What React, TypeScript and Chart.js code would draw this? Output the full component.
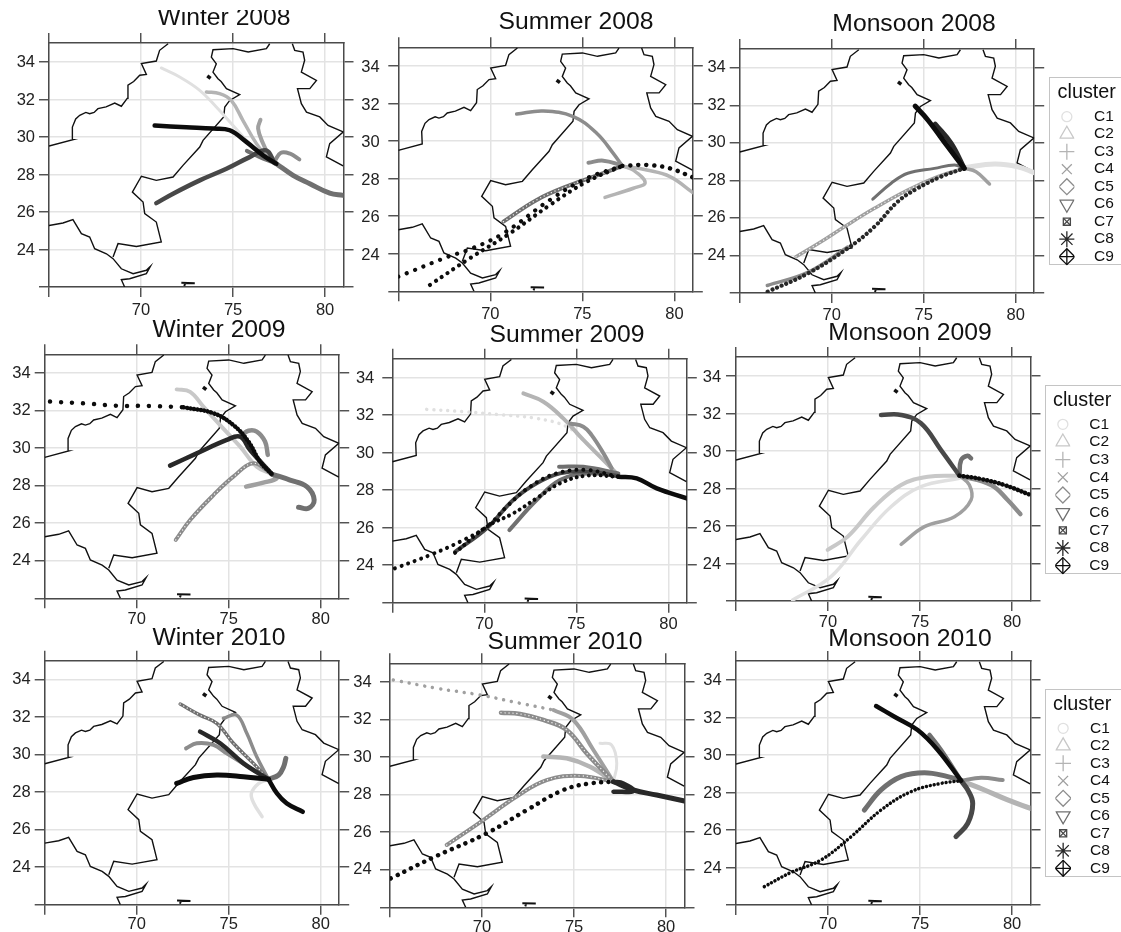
import React, { useEffect, useRef } from "react";
import { Chart, registerables } from "chart.js";

Chart.register(...registerables);
Chart.defaults.font.family = '"Liberation Sans", Arial, sans-serif';

type Pts = number[][];

// ---------- axis values ----------
const lonTicks = [65, 70, 75, 80];
const latTicks = [22, 24, 26, 28, 30, 32, 34];
const lonLabels = [70, 75, 80];
const latLabels = [24, 26, 28, 30, 32, 34];
const clusters = ["C1", "C2", "C3", "C4", "C5", "C6", "C7", "C8", "C9"];
const clusterGreys = ["#e0e0e0", "#c8c8c8", "#b4b4b4", "#a0a0a0", "#8c8c8c", "#707070", "#484848", "#282828", "#0c0c0c"];

// ---------- base map ----------
const mapNorthWest: Pts = [[65, 29.51], [66.3, 29.85], [66.27, 30.52], [66.45, 30.95], [66.67, 31.15], [67.0, 31.3], [67.21, 31.23], [67.45, 31.3], [67.66, 31.5], [68.1, 31.6], [68.57, 31.8], [68.93, 31.63], [69.25, 32.05], [69.29, 32.75], [69.6, 32.95], [69.93, 33.28], [70.29, 33.33], [70.02, 33.9], [70.83, 34.04], [71.01, 34.61], [71.47, 34.96]];
const mapBorder: Pts = [[76.99, 34.96], [76.81, 34.7], [75.82, 34.52], [75, 34.7], [73.91, 34.64], [73.82, 34.25], [74.09, 33.89], [73.91, 33.45], [74.18, 33.1], [74.35, 32.95], [74.64, 32.57], [75.36, 32.25], [74.82, 31.94], [74.55, 31.59], [74.49, 31.06], [73.37, 29.81], [73.19, 29.46], [72.28, 28.48], [71.74, 27.86], [70.83, 27.68], [70.02, 27.9], [69.53, 27.06], [70.11, 26.53], [70.2, 25.91], [70.83, 25.46], [71.1, 24.4], [69.75, 24.16], [68.75, 24.31], [68.48, 23.6]];
const mapCoast: Pts = [[65, 25.28], [65.76, 25.41], [66.3, 25.59], [66.76, 24.84], [67.21, 24.66], [67.48, 24.04], [68.12, 23.77], [68.48, 23.51], [68.93, 22.97], [69.57, 22.71], [70.29, 22.89], [70.51, 23.1], [70.29, 22.71], [69.38, 22.44], [68.93, 22.39], [69.11, 22.0]];
const mapEast: Pts = [[78.22, 34.96], [78.35, 34.61], [78.8, 34.52], [78.89, 34.08], [78.71, 33.45], [79.53, 33.01], [79.17, 32.57], [78.5, 32.57], [78.71, 31.77], [78.99, 31.32], [79.71, 31.06], [80.16, 30.61], [80.98, 30.26], [80.25, 29.64], [80.07, 28.93], [80.98, 28.45]];
const mapLake: Pts = [[73.6, 33.25], [73.78, 33.12]];
const mapIsland: Pts = [[72.19, 22.22], [72.92, 22.2], [72.4, 22.2], [72.35, 22.05]];

// ---------- trajectories (lon, lat) ----------
const w08a: Pts = [[71.1, 33.67], [72.1, 33.19], [73.19, 32.48], [74.09, 31.59], [75, 30.61], [75.9, 29.64], [76.63, 29.01], [77.25, 28.6]];
const w08b: Pts = [[73.55, 32.39], [74.27, 32.3], [74.9, 31.94], [75.54, 30.87], [76.27, 29.64], [76.99, 28.75]];
const w08c: Pts = [[76.49, 30.91], [76.36, 30.44], [76.63, 29.64], [77.08, 28.75]];
const w08d: Pts = [[70.74, 30.6], [72.46, 30.51], [73.91, 30.44], [74.82, 30.35], [75.72, 29.73], [76.63, 29.01], [77.35, 28.57]];
const w08e: Pts = [[70.83, 26.47], [71.74, 26.97], [73.19, 27.68], [74.64, 28.3], [75.9, 28.92], [76.8, 29.28], [77.25, 28.6]];
const w08f: Pts = [[80.98, 26.88], [80.25, 27.0], [79.17, 27.5], [78.26, 27.95], [77.35, 28.57]];
const w08g: Pts = [[78.6, 28.8], [78.1, 29.1], [77.6, 29.15], [77.25, 28.7]];
const w08h: Pts = [[75.75, 29.25], [76.4, 28.95], [77.25, 28.6]];

const s08a: Pts = [[71.43, 31.45], [72.88, 31.61], [74.51, 31.31], [75.78, 30.42], [76.68, 29.35], [77.17, 28.68]];
const s08b: Pts = [[75.33, 28.85], [76.14, 28.96], [77.17, 28.7]];
const s08c: Pts = [[76.23, 27.0], [77.77, 27.49], [78.41, 27.79], [77.77, 28.46], [77.17, 28.68]];
const s08d: Pts = [[77.17, 28.68], [78.5, 28.46], [79.76, 28.11], [81, 27.26]];
const s08e: Pts = [[77.17, 28.68], [78.5, 28.73], [79.76, 28.55], [81, 28.07]];
const s08f: Pts = [[66.72, 22.34], [68.89, 23.76], [71.07, 25.09], [73.24, 26.6], [75.24, 27.84], [77.17, 28.68]];
const s08g: Pts = [[65, 22.78], [67.72, 23.85], [68.89, 24.24], [70.71, 25.09], [73.24, 26.87], [75.24, 28.02], [77.17, 28.68]];
const s08h: Pts = [[70.71, 25.71], [72.52, 26.87], [74.33, 27.66], [76.14, 28.29], [77.17, 28.68]];

const m08a: Pts = [[74.53, 31.96], [75.22, 31.22], [76.3, 29.8], [77.2, 28.64]];
const m08b: Pts = [[75.62, 31.0], [76.49, 29.97], [77.2, 28.64]];
const m08c: Pts = [[77.2, 28.68], [78.84, 28.87], [80.1, 28.73], [81, 28.41]];
const m08d: Pts = [[77.2, 28.64], [77.84, 28.46], [78.57, 27.81]];
const m08e: Pts = [[72.23, 27.0], [73.23, 27.85], [74.13, 28.38], [75.58, 28.64], [76.67, 28.82], [77.2, 28.64]];
const m08f: Pts = [[68.06, 23.93], [69.42, 24.73], [70.69, 25.53], [72.32, 26.51], [74.13, 27.49], [75.76, 28.2], [77.2, 28.64]];
const m08g: Pts = [[66.52, 22.07], [68.7, 23.04], [70.87, 24.38], [72.32, 25.53], [73.59, 26.87], [74.67, 27.58], [75.94, 28.2], [77.2, 28.64]];
const m08h: Pts = [[66.5, 22.4], [68.7, 23.1], [70.87, 24.45]];

const w09a: Pts = [[65.29, 32.48], [67.1, 32.39], [68.91, 32.26], [70.72, 32.25], [72.54, 32.18]];
const w09b: Pts = [[72.54, 32.18], [74.17, 31.86], [75.25, 31.23], [76.07, 30.35], [76.7, 29.28], [77.34, 28.62]];
const w09c: Pts = [[72.17, 33.13], [72.9, 33.0], [73.62, 32.21], [74.53, 31.23], [75.62, 30.08], [76.52, 29.01], [77.34, 28.62]];
const w09d: Pts = [[77.12, 29.64], [76.97, 30.35], [76.52, 30.88], [76.07, 30.93], [75.7, 30.7]];
const w09e: Pts = [[71.81, 29.07], [73.26, 29.72], [74.89, 30.44], [75.62, 30.61], [76.16, 29.9], [77.34, 28.62]];
const w09f: Pts = [[72.12, 25.11], [72.9, 26.17], [74.17, 27.5], [75.25, 28.48], [76.34, 29.19], [77.34, 28.62]];
const w09g: Pts = [[75.94, 27.95], [76.88, 28.16], [77.6, 28.39], [77.34, 28.62]];
const w09h: Pts = [[77.34, 28.62], [78.33, 28.3], [79.24, 27.95], [79.64, 27.24], [79.33, 26.8], [78.79, 26.85]];

const s09a: Pts = [[66.87, 32.3], [68.86, 32.18], [71.03, 32.0], [72.84, 31.82], [74.47, 31.38], [75.56, 30.49], [76.92, 29.16]];
const s09b: Pts = [[72.12, 33.15], [73.21, 32.71], [74.29, 31.82], [75.38, 30.67], [76.47, 29.6], [77.28, 28.8]];
const s09c: Pts = [[74.66, 31.55], [75.38, 31.38], [75.83, 30.93], [76.47, 29.96], [76.92, 29.16]];
const s09d: Pts = [[74.06, 29.24], [75.38, 29.24], [77.28, 28.89]];
const s09e: Pts = [[65.14, 23.83], [67.05, 24.54], [68.68, 25.25], [70.13, 26.05], [71.21, 27.11], [72.48, 28.18], [73.93, 28.89], [75.56, 29.07], [77.28, 28.71]];
const s09f: Pts = [[68.41, 24.66], [70.13, 26.05], [71.57, 26.76], [72.84, 27.56], [74.11, 28.36], [75.56, 28.77], [77.28, 28.71]];
const s09g: Pts = [[68.41, 24.71], [70.13, 25.96], [71.57, 27.47], [72.84, 28.36], [74.11, 28.89], [75.5, 29.0], [77.28, 28.75]];
const s09h: Pts = [[71.36, 25.87], [72.84, 27.47], [74.11, 28.53], [75.56, 28.89], [77.28, 28.75]];
const s09i: Pts = [[77.28, 28.71], [78.28, 28.62], [79.37, 28.09], [81, 27.56]];

const m09a: Pts = [[72.88, 31.91], [73.97, 31.91], [75.05, 31.47], [76.14, 30.04], [77.14, 28.68]];
const m09b: Pts = [[77.14, 28.68], [77.23, 29.5], [77.59, 29.74], [77.77, 29.6]];
const m09c: Pts = [[77.14, 28.68], [78.32, 28.5], [79.58, 28.18], [81, 27.65]];
const m09d: Pts = [[77.14, 28.68], [78.86, 28.18], [79.76, 27.38], [80.45, 26.63]];
const m09e: Pts = [[73.97, 25.02], [75.24, 25.96], [76.87, 26.49], [77.77, 27.38], [77.68, 28.18], [77.14, 28.68]];
const m09f: Pts = [[69.98, 24.72], [71.07, 25.43], [72.52, 27.02], [73.97, 28.18], [75.42, 28.62], [77.14, 28.68]];
const m09g: Pts = [[68.08, 22.05], [70.16, 23.3], [71.79, 25.25], [73.42, 27.02], [75.05, 28.09], [77.14, 28.54]];

const w10a: Pts = [[72.36, 32.69], [73.44, 32.1], [74.35, 31.66], [75.25, 30.6], [76.34, 29.53], [77.16, 28.68]];
const w10b: Pts = [[74.71, 31.93], [75.43, 32.1], [75.98, 31.13], [76.52, 29.88], [77.16, 28.68]];
const w10c: Pts = [[73.44, 31.22], [74.53, 30.6], [75.8, 29.53], [77.16, 28.68]];
const w10d: Pts = [[72.68, 30.33], [73.26, 30.6], [74.17, 30.51], [74.89, 30.06], [77.16, 28.68]];
const w10e: Pts = [[72.17, 28.46], [73.08, 28.78], [74.35, 28.91], [75.8, 28.82], [77.16, 28.68]];
const w10f: Pts = [[77.16, 28.68], [77.71, 28.91], [77.98, 29.35], [78.1, 29.8]];
const w10g: Pts = [[76.81, 26.69], [76.36, 27.4], [76.23, 27.93], [76.63, 28.46], [77.16, 28.68]];
const w10h: Pts = [[77.16, 28.68], [77.62, 27.93], [78.15, 27.4], [79.02, 26.95]];

const s10a: Pts = [[65.18, 34.11], [67.54, 33.67], [69.89, 33.31], [72.07, 32.87], [73.88, 32.51]];
const s10b: Pts = [[73.88, 32.51], [74.96, 31.98], [76.05, 30.38], [77.14, 28.69]];
const s10c: Pts = [[71.03, 32.37], [72.07, 32.3], [73.33, 31.98], [74.6, 31.45], [75.69, 30.2], [77.14, 28.69]];
const s10d: Pts = [[73.33, 30.03], [74.6, 29.94], [75.87, 29.49], [77.14, 28.69]];
const s10e: Pts = [[76.41, 30.74], [77.04, 30.65], [77.32, 29.67], [77.14, 28.69]];
const s10f: Pts = [[68.08, 25.32], [70.07, 26.65], [71.88, 27.9], [73.51, 28.78], [75.33, 29.0], [77.14, 28.69]];
const s10g: Pts = [[65.04, 23.54], [67.36, 24.66], [70.25, 25.94], [72.43, 27.18], [74.42, 28.25], [75.87, 28.6], [77.14, 28.69]];
const s10h: Pts = [[77.14, 28.69], [78.22, 28.25], [79.49, 27.98], [81, 27.66]];
const s10i: Pts = [[77.14, 28.16], [78.22, 28.2], [77.68, 28.6], [77.14, 28.69]];

const m10a: Pts = [[72.61, 32.6], [73.61, 32.03], [74.87, 31.32], [75.96, 30.26], [77.23, 28.62]];
const m10b: Pts = [[75.51, 31.06], [76.14, 30.26], [77.23, 28.62]];
const m10c: Pts = [[71.97, 27.06], [72.88, 28.13], [73.97, 28.84], [75.24, 29.05], [76.5, 28.84], [77.23, 28.62]];
const m10d: Pts = [[77.23, 28.62], [78.32, 28.78], [79.49, 28.66]];
const m10e: Pts = [[77.23, 28.62], [78.5, 28.13], [79.76, 27.6], [81, 27.15]];
const m10f: Pts = [[76.95, 25.64], [77.59, 26.35], [77.86, 27.41], [77.59, 28.13], [77.23, 28.62]];
const m10g: Pts = [[66.54, 22.98], [68, 23.74], [69.62, 24.4], [71.25, 25.64], [72.88, 27.06], [74.51, 28.04], [76.14, 28.48], [77.23, 28.62]];

// ---------- panels ----------
type Track = { pts: Pts; c: number; w: number; gap?: number; bead?: boolean };
type Panel = {
  title: string; left: number; top: number; titleX: number; base: number;
  leftLabels: boolean; rightLabels: boolean; rightOff: number; rightPad: number; leftOff: number; bottomPad: number;
  tracks: Track[];
};

const PW = 294.5;
const PH = 244;

const panels: Panel[] = [
  { title: "Winter 2008", left: 49, top: 43, titleX: 223.7, base: 26.7, leftLabels: true, rightLabels: true, rightOff: 6, rightPad: 7.7, leftOff: 1, bottomPad: 3.5,
    tracks: [{ pts: w08a, c: 0, w: 3 }, { pts: w08b, c: 2, w: 3.5 }, { pts: w08c, c: 3, w: 4 }, { pts: w08g, c: 4, w: 4 }, { pts: w08h, c: 5, w: 4 }, { pts: w08f, c: 5, w: 5 }, { pts: w08e, c: 6, w: 4.5 }, { pts: w08d, c: 8, w: 4.5 }] },
  { title: "Summer 2008", left: 398.3, top: 47.3, titleX: 576, base: 30.7, leftLabels: false, rightLabels: true, rightOff: 1.5, rightPad: 4.6, leftOff: 0, bottomPad: 3.5,
    tracks: [{ pts: s08d, c: 2, w: 3.5 }, { pts: s08c, c: 2, w: 3.5 }, { pts: s08a, c: 4, w: 3.5 }, { pts: s08b, c: 4, w: 4 }, { pts: s08h, c: 5, w: 4, bead: true }, { pts: s08e, c: 8, w: 4.5, gap: 8 }, { pts: s08f, c: 8, w: 4.2, gap: 7 }, { pts: s08g, c: 8, w: 4.2, gap: 9 }] },
  { title: "Monsoon 2008", left: 739.7, top: 49, titleX: 914, base: 32.7, leftLabels: false, rightLabels: false, rightOff: 0, rightPad: 6, leftOff: 0, bottomPad: 3,
    tracks: [{ pts: m08c, c: 0, w: 5 }, { pts: m08d, c: 3, w: 3.5 }, { pts: m08f, c: 3, w: 3.5, bead: true }, { pts: m08e, c: 5, w: 3 }, { pts: m08h, c: 4, w: 3.5 }, { pts: m08g, c: 7, w: 4.2, gap: 5 }, { pts: m08b, c: 7, w: 5 }, { pts: m08a, c: 8, w: 5 }] },
  { title: "Winter 2009", left: 44.7, top: 354.3, titleX: 219, base: 339, leftLabels: true, rightLabels: true, rightOff: 5, rightPad: 6.7, leftOff: 0, bottomPad: 1.5,
    tracks: [{ pts: w09c, c: 1, w: 4 }, { pts: w09g, c: 3, w: 4.5 }, { pts: w09d, c: 4, w: 4.5 }, { pts: w09f, c: 4, w: 4, bead: true }, { pts: w09h, c: 5, w: 5 }, { pts: w09e, c: 7, w: 4.5 }, { pts: w09a, c: 8, w: 4.5, gap: 11 }, { pts: w09b, c: 8, w: 4.5, gap: 3.5 }] },
  { title: "Summer 2009", left: 392.3, top: 358.7, titleX: 567, base: 344, leftLabels: false, rightLabels: true, rightOff: -0.5, rightPad: 6, leftOff: 0, bottomPad: 1.5,
    tracks: [{ pts: s09a, c: 0, w: 3.5, gap: 7 }, { pts: s09b, c: 2, w: 4 }, { pts: s09c, c: 4, w: 4 }, { pts: s09d, c: 5, w: 4 }, { pts: s09h, c: 5, w: 4 }, { pts: s09g, c: 6, w: 4 }, { pts: s09f, c: 8, w: 4, gap: 6 }, { pts: s09e, c: 8, w: 4, gap: 7 }, { pts: s09i, c: 8, w: 4.5 }] },
  { title: "Monsoon 2009", left: 736, top: 357, titleX: 910, base: 341.7, leftLabels: false, rightLabels: false, rightOff: 0, rightPad: 6, leftOff: 0, bottomPad: 1.5,
    tracks: [{ pts: m09g, c: 0, w: 3.5 }, { pts: m09f, c: 1, w: 4 }, { pts: m09e, c: 3, w: 3.5 }, { pts: m09d, c: 4, w: 4.5 }, { pts: m09b, c: 5, w: 4.5 }, { pts: m09a, c: 6, w: 4.5 }, { pts: m09c, c: 8, w: 4.5, gap: 4 }] },
  { title: "Winter 2010", left: 44.7, top: 660.7, titleX: 219, base: 646.7, leftLabels: true, rightLabels: true, rightOff: 2.5, rightPad: 4, leftOff: 0, bottomPad: 0,
    tracks: [{ pts: w10g, c: 0, w: 3.5 }, { pts: w10d, c: 4, w: 4 }, { pts: w10b, c: 4, w: 3.5 }, { pts: w10a, c: 5, w: 3.5, bead: true }, { pts: w10f, c: 5, w: 5 }, { pts: w10c, c: 7, w: 4.5 }, { pts: w10h, c: 8, w: 4.5 }, { pts: w10e, c: 8, w: 5 }] },
  { title: "Summer 2010", left: 390, top: 663.3, titleX: 565, base: 650.7, leftLabels: false, rightLabels: true, rightOff: -1.5, rightPad: 8.7, leftOff: 0, bottomPad: 0,
    tracks: [{ pts: s10e, c: 0, w: 3 }, { pts: s10d, c: 2, w: 4.5 }, { pts: s10a, c: 3, w: 3.5, gap: 8 }, { pts: s10b, c: 3, w: 4 }, { pts: s10c, c: 4, w: 4.5, bead: true }, { pts: s10f, c: 4, w: 4, bead: true }, { pts: s10g, c: 8, w: 4.5, gap: 7.5 }, { pts: s10h, c: 7, w: 5 }, { pts: s10i, c: 7, w: 4.5 }] },
  { title: "Monsoon 2010", left: 736, top: 661, titleX: 910, base: 647.7, leftLabels: false, rightLabels: false, rightOff: 0, rightPad: 6, leftOff: 0, bottomPad: 0,
    tracks: [{ pts: m10e, c: 2, w: 5 }, { pts: m10d, c: 4, w: 4 }, { pts: m10b, c: 5, w: 4.5 }, { pts: m10c, c: 5, w: 5 }, { pts: m10f, c: 6, w: 5 }, { pts: m10a, c: 8, w: 4.5 }, { pts: m10g, c: 8, w: 3.5, gap: 4 }] },
];

const legends = [
  { left: 1049, top: 77, bottom: 265, base: 99.3, row1: 116.7, step: 17.5, marker: 1066, label: 1094, titleX: 1057.6 },
  { left: 1045, top: 385, bottom: 574, base: 407.7, row1: 424.3, step: 17.67, marker: 1061.7, label: 1089.3, titleX: 1053 },
  { left: 1045, top: 689, bottom: 877, base: 711.7, row1: 728.3, step: 17.5, marker: 1062, label: 1090, titleX: 1053 },
];

const TITLE_FONT = 24.7;
const TICK_FONT = 16.5;
const AXIS = "#4a4a4a";
const GRID = "#e3e3e3";

const toXY = (p: Pts) => p.map(([x, y]) => ({ x, y }));

function lonLatScale(extra: any) {
  return { type: "linear", ...extra };
}

function PanelChart({ p }: { p: Panel }) {
  const ref = useRef<HTMLCanvasElement>(null);
  const half = Math.ceil(Math.max(p.titleX - p.left + 45, p.left + PW + 75 - p.titleX));
  const L = Math.round(p.titleX - half);
  const mid = p.base - 0.3465 * TITLE_FONT;
  const T = p.title === "Winter 2008" ? 10 : Math.round(mid - 22);
  const B = Math.round(p.top + PH + 36);
  const w = half * 2;
  const h = B - T;

  useEffect(() => {
    const n = p.tracks.length;
    const datasets: any[] = [];
    [mapNorthWest, mapBorder, mapCoast, mapEast, mapLake, mapIsland].forEach((m, i) =>
      datasets.push({ label: "map" + i, data: toXY(m), showLine: true, borderColor: "#111", borderWidth: i === 4 ? 3.5 : i === 5 ? 2 : 1.4, pointRadius: 0, tension: 0, order: 1000 })
    );
    p.tracks.forEach((t, i) => {
      datasets.push({
        label: clusters[t.c], data: toXY(t.pts), showLine: true, borderColor: clusterGreys[t.c], borderWidth: t.w,
        borderCapStyle: "round", borderJoinStyle: "round", borderDash: t.gap ? [0.01, t.gap] : [], pointRadius: 0, tension: 0.4, order: (n - i) * 2 + 1,
      });
      if (t.bead) {
        datasets.push({
          label: clusters[t.c] + " beads", data: toXY(t.pts), showLine: true, borderColor: "#f2f2f2", borderWidth: 1.4,
          borderCapStyle: "round", borderDash: [0.01, 4], pointRadius: 0, tension: 0.4, order: (n - i) * 2,
        });
      }
    });
    const tickFont = { size: TICK_FONT };
    const gridOn = { color: GRID, lineWidth: 1.5, tickColor: AXIS, tickWidth: 1.4, tickLength: 10 };
    const gridOff = { ...gridOn, drawOnChartArea: false };
    const border = { color: AXIS, width: 1.5 };
    const setLon = (s: any) => { s.ticks = lonTicks.map((value) => ({ value })); };
    const setLat = (s: any) => { s.ticks = latTicks.map((value) => ({ value })); };
    const lonCb = (v: any) => (lonLabels.includes(Number(v)) ? String(v) : "");
    const latCb = (v: any) => (latLabels.includes(Number(v)) ? String(v) : "");
    const titleH = p.top - 10 - T;
    const padTop = mid - T - TITLE_FONT / 2;
    const chart = new Chart(ref.current as HTMLCanvasElement, {
      type: "scatter",
      data: { datasets },
      options: {
        animation: false, responsive: false, events: [],
        layout: { padding: 0 },
        plugins: {
          legend: { display: false }, tooltip: { enabled: false },
          title: {
            display: true, text: p.title, color: "#111", font: { size: TITLE_FONT, weight: "normal", lineHeight: 1 },
            padding: { top: padTop, bottom: titleH - padTop - TITLE_FONT },
          },
        },
        scales: {
          x: lonLatScale({
            position: "bottom", min: 65, max: 81, grid: gridOn, border,
            afterBuildTicks: setLon, afterFit: (s: any) => { s.height = B - p.top - PH; },
            ticks: { callback: lonCb, autoSkip: false, maxRotation: 0, font: tickFont, color: "#222", padding: p.bottomPad },
          }),
          xTop: lonLatScale({
            position: "top", min: 65, max: 81, grid: gridOff, border,
            afterBuildTicks: setLon, afterFit: (s: any) => { s.height = 10; },
            ticks: { display: false },
          }),
          y: lonLatScale({
            position: "left", min: 22, max: 35, grid: gridOn, border,
            afterBuildTicks: setLat, afterFit: (s: any) => { s.width = p.left - L; },
            ticks: { display: p.leftLabels, callback: latCb, autoSkip: false, font: tickFont, color: "#222", padding: 4, labelOffset: p.leftOff },
          }),
          yRight: lonLatScale({
            position: "right", min: 22, max: 35, grid: gridOff, border,
            afterBuildTicks: setLat, afterFit: (s: any) => { s.width = L + w - p.left - PW; },
            ticks: { display: p.rightLabels, callback: latCb, autoSkip: false, font: tickFont, color: "#222", padding: p.rightPad, labelOffset: p.rightOff },
          }),
        },
      } as any,
    });
    return () => chart.destroy();
  }, []);

  return (
    <canvas ref={ref} width={w} height={h}
      style={{ position: "absolute", left: L, top: T, width: w, height: h, filter: "blur(0.4px)" }} />
  );
}

function LegendChart({ g }: { g: (typeof legends)[number] }) {
  const ref = useRef<HTMLCanvasElement>(null);
  const L = g.left + 1;
  const T = g.top + 1;
  const w = 1121 - L;
  const h = g.bottom - g.top + 12;
  useEffect(() => {
    const stroke = (i: number, pointStyle: string, radius: number, rotation = 0) => ({
      label: clusters[i], data: [{ x: 0, y: i + 1 }], pointStyle, pointRadius: radius, pointRotation: rotation,
      pointBorderColor: clusterGreys[i], pointBackgroundColor: "rgba(0,0,0,0)", pointBorderWidth: 1.3,
    });
    const datasets = [
      stroke(0, "circle", 5), stroke(1, "triangle", 8), stroke(2, "cross", 8), stroke(3, "crossRot", 7),
      stroke(4, "rectRot", 8), stroke(5, "triangle", 8, 180), stroke(6, "rect", 5), stroke(6, "crossRot", 5),
      stroke(7, "star", 8), stroke(8, "rectRot", 8), stroke(8, "cross", 8),
    ];
    const titleFont = 19.8;
    const mid = g.base - 0.3465 * titleFont;
    const padTop = mid - T - titleFont / 2;
    const areaTop = g.row1 - g.step / 2;
    const areaBottom = g.row1 + g.step * 8.5;
    const chart = new Chart(ref.current as HTMLCanvasElement, {
      type: "scatter",
      data: { datasets },
      options: {
        animation: false, responsive: false, events: [],
        layout: { padding: { left: g.titleX - L, top: 0, right: 0, bottom: 0 } },
        plugins: {
          legend: { display: false }, tooltip: { enabled: false },
          title: {
            display: true, text: "cluster", align: "start", color: "#111", font: { size: titleFont, weight: "normal", lineHeight: 1 },
            padding: { top: padTop, bottom: areaTop - T - padTop - titleFont },
          },
        },
        scales: {
          x: {
            type: "linear", position: "bottom", min: -1, max: 1,
            grid: { display: false, drawTicks: false }, border: { display: false }, ticks: { display: false },
            afterFit: (s: any) => { s.height = T + h - areaBottom; },
          },
          y: {
            type: "linear", position: "right", reverse: true, min: 0.5, max: 9.5,
            grid: { display: false, drawTicks: false }, border: { display: false },
            afterBuildTicks: (s: any) => { s.ticks = clusters.map((_, i) => ({ value: i + 1 })); },
            afterFit: (s: any) => { s.width = L + w - (2 * g.marker - g.titleX); s.paddingTop = 0; s.paddingBottom = 0; },
            ticks: { autoSkip: false, callback: (v: any) => clusters[Number(v) - 1], font: { size: 15.5 }, color: "#111", padding: g.label - (2 * g.marker - g.titleX) },
          },
        },
      } as any,
    });
    return () => chart.destroy();
  }, []);
  return (
    <>
      <div style={{ position: "absolute", left: g.left, top: g.top, width: 1121 - g.left, height: g.bottom - g.top, boxSizing: "border-box", border: "1px solid #c4c4c4", borderRight: "none" }} />
      <canvas ref={ref} width={w} height={h} style={{ position: "absolute", left: L, top: T, width: w, height: h, filter: "blur(0.3px)" }} />
    </>
  );
}

export default function App() {
  return (
    <div style={{ position: "absolute", left: 0, top: 0, width: 1121, height: 932, overflow: "hidden", background: "#fff" }}>
      {panels.map((p) => <PanelChart key={p.title} p={p} />)}
      {legends.map((g, i) => <LegendChart key={i} g={g} />)}
    </div>
  );
}
